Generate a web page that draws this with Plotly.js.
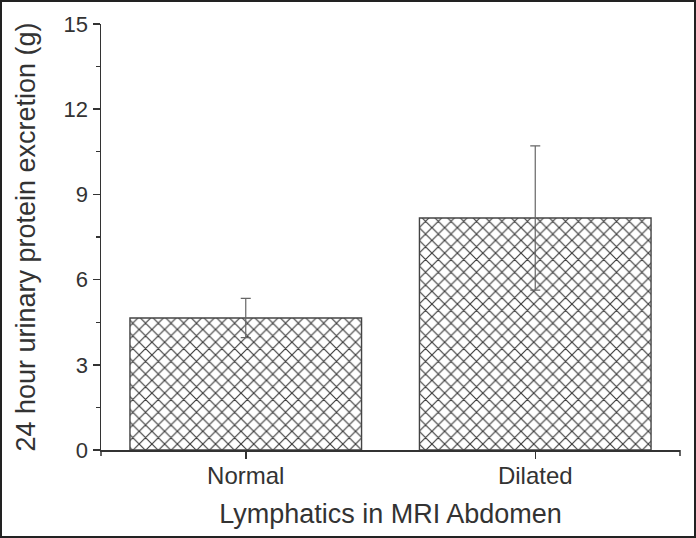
<!DOCTYPE html>
<html>
<head>
<meta charset="utf-8">
<script src="https://cdn.plot.ly/plotly-3.0.1.min.js"></script>
<style>
  html, body { margin: 0; padding: 0; background: #fff; }
  #wrap { position: relative; width: 696px; height: 538px; }
  #chart { width: 696px; height: 538px; }
  #frame { position: absolute; left: 0; top: 0; width: 696px; height: 538px; box-sizing: border-box; border: 2px solid #222; pointer-events: none; }
</style>
</head>
<body>
<div id="wrap"><div id="chart"></div><div id="frame"></div></div>
<script>
const categories = ["Normal", "Dilated"];
const means = [4.65, 8.17];
const errors = [0.69, 2.54];
const yTicks = [0, 3, 6, 9, 12, 15];

const trace = {
  type: "bar",
  x: categories,
  y: means,
  width: 0.8,
  marker: {
    color: "#ffffff",
    line: { color: "#444", width: 1.4 },
    pattern: { shape: "x", size: 9, solidity: 0.24, fgcolor: "#3a3a3a", bgcolor: "#ffffff" }
  },
  error_y: { type: "data", array: errors, visible: true, color: "#666", thickness: 1.2, width: 5 }
};

const layout = {
  width: 696, height: 538,
  margin: { l: 101, r: 16, t: 24, b: 88 },
  paper_bgcolor: "#fff", plot_bgcolor: "#fff",
  showlegend: false,
  font: { family: "Liberation Sans, Arial, sans-serif", color: "#333" },
  xaxis: {
    type: "category",
    range: [-0.5, 1.5],
    showline: true, linecolor: "#333", linewidth: 1.5,
    ticks: "outside", ticklen: 7, tickcolor: "#333", tickwidth: 1.5,
    ticklabelstandoff: -3,
    tickfont: { size: 24, color: "#333" },
    showgrid: false, zeroline: false,
    title: { text: "Lymphatics in MRI Abdomen", font: { size: 27, color: "#333" }, standoff: 16 }
  },
  yaxis: {
    range: [0, 15],
    tickvals: yTicks,
    ticktext: yTicks.map(String),
    showline: true, linecolor: "#333", linewidth: 1.5,
    ticks: "outside", ticklen: 7, tickcolor: "#333", tickwidth: 1.5,
    minor: { ticks: "outside", dtick: 1.5, tick0: 0, ticklen: 4, tickcolor: "#333", tickwidth: 1.2, showgrid: false },
    tickfont: { size: 22, color: "#333" },
    showgrid: false, zeroline: false,
    title: { text: "24 hour urinary protein excretion (g)", font: { size: 27, color: "#333" }, standoff: 20 }
  },
  shapes: [
    { type: "line", xref: "paper", yref: "paper", x0: 1, x1: 1, y0: 0, y1: -6 / 426, line: { color: "#333", width: 1.5 } },
    { type: "line", xref: "paper", yref: "paper", x0: 0, x1: 0, y0: 0, y1: -6 / 426, line: { color: "#333", width: 1.5 } }
  ]
};

Plotly.newPlot("chart", [trace], layout, { displayModeBar: false, staticPlot: true });
</script>
</body>
</html>
